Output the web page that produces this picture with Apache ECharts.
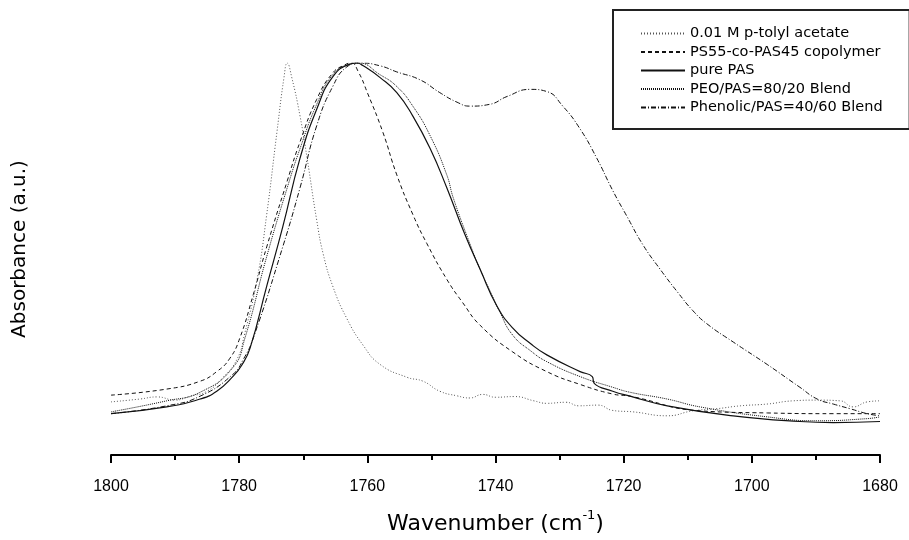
<!DOCTYPE html>
<html>
<head>
<meta charset="utf-8">
<script src="https://cdn.jsdelivr.net/npm/echarts@6/dist/echarts.min.js"></script>
<style>html,body{margin:0;padding:0;background:#fff}#c{width:909px;height:540px}</style>
</head>
<body>
<div id="c"></div>
<script>
const seriesNames = ['0.01 M p-tolyl acetate', 'PS55-co-PAS45 copolymer', 'pure PAS', 'PEO/PAS=80/20 Blend', 'Phenolic/PAS=40/60 Blend'];
const xTicks = [1800, 1780, 1760, 1740, 1720, 1700, 1680];

const pTolyl = [[1800,0.049],[1795.5,0.057],[1792.8,0.063],[1790.0,0.054],[1787.7,0.065],[1785.0,0.079],[1782.5,0.118],[1780.3,0.170],[1779.2,0.236],[1777.2,0.393],[1775.7,0.575],[1774.1,0.807],[1773.0,0.960],[1772.5,1.0],[1771.8,0.960],[1770.5,0.851],[1769.4,0.733],[1767.9,0.559],[1766.9,0.465],[1765.4,0.374],[1763.2,0.283],[1760.7,0.209],[1758.0,0.154],[1753.8,0.118],[1751.3,0.107],[1748.7,0.079],[1746.0,0.066],[1744.0,0.060],[1742.0,0.070],[1740.0,0.062],[1737.0,0.064],[1734.0,0.052],[1732.0,0.045],[1729.0,0.048],[1727.0,0.038],[1724.0,0.040],[1721.7,0.025],[1718.5,0.021],[1713.2,0.010],[1709.2,0.024],[1705.4,0.030],[1701.8,0.038],[1697.6,0.043],[1693.6,0.052],[1689.8,0.054],[1686.2,0.052],[1684.2,0.035],[1682.0,0.049],[1680.0,0.052]];

const copolymer = [[1800,0.068],[1791.3,0.085],[1786.1,0.107],[1783.5,0.134],[1781.5,0.170],[1779.9,0.228],[1777.8,0.350],[1775.7,0.484],[1772.5,0.669],[1770.5,0.779],[1767.9,0.898],[1765.4,0.972],[1763.5,0.995],[1762.5,1.0],[1761.4,0.975],[1760.0,0.917],[1757.6,0.807],[1755.4,0.686],[1752.9,0.575],[1750.7,0.493],[1747.6,0.393],[1745.1,0.327],[1742.4,0.264],[1737.3,0.189],[1732.0,0.134],[1726.8,0.098],[1721.7,0.071],[1719.0,0.065],[1708.1,0.024],[1697.6,0.018],[1687.3,0.016],[1680.0,0.016]];

const purePAS = [[1800,0.016],[1791.3,0.035],[1786.1,0.057],[1783.5,0.079],[1781.0,0.120],[1779.6,0.152],[1778.3,0.200],[1775.7,0.374],[1773.2,0.540],[1770.5,0.733],[1767.9,0.870],[1765.4,0.961],[1762.7,0.997],[1761.6,1.0],[1760.7,0.993],[1758.0,0.959],[1755.4,0.917],[1752.9,0.851],[1750.2,0.760],[1747.6,0.650],[1744.8,0.520],[1742.4,0.421],[1739.8,0.319],[1737.3,0.256],[1734.5,0.212],[1732.0,0.181],[1726.8,0.134],[1724.9,0.120],[1724.6,0.101],[1721.7,0.079],[1719.0,0.065],[1713.2,0.038],[1702.9,0.010],[1692.5,-0.006],[1687.3,-0.009],[1680.0,-0.006]];

const peoBlend = [[1800,0.021],[1791.3,0.052],[1786.1,0.076],[1781.0,0.145],[1779.1,0.228],[1775.7,0.457],[1772.5,0.650],[1770.5,0.760],[1767.9,0.884],[1765.4,0.967],[1762.7,0.997],[1761.4,1.0],[1758.0,0.967],[1755.4,0.934],[1752.9,0.879],[1750.2,0.796],[1747.6,0.686],[1746.6,0.622],[1744.0,0.493],[1742.4,0.420],[1740.9,0.362],[1739.3,0.300],[1737.3,0.236],[1734.5,0.192],[1732.0,0.162],[1726.8,0.120],[1721.7,0.090],[1719.0,0.076],[1713.2,0.057],[1708.1,0.035],[1697.6,0.007],[1689.8,-0.004],[1682.0,0.002],[1680.0,0.007]];

const phenolicBlend = [[1800,0.016],[1791.3,0.038],[1786.1,0.065],[1781.0,0.126],[1779.3,0.170],[1777.8,0.228],[1773.2,0.484],[1770.5,0.650],[1767.9,0.824],[1765.4,0.934],[1763.2,0.989],[1761.1,1.0],[1758.0,0.992],[1755.4,0.975],[1751.8,0.953],[1748.7,0.917],[1746.0,0.890],[1744.0,0.879],[1740.9,0.884],[1738.2,0.906],[1734.6,0.926],[1732.0,0.920],[1729.5,0.879],[1726.8,0.815],[1724.2,0.733],[1721.7,0.642],[1719.5,0.570],[1717.0,0.490],[1714.3,0.421],[1711.5,0.355],[1709.2,0.305],[1707.0,0.268],[1702.9,0.217],[1697.6,0.154],[1692.5,0.090],[1689.8,0.057],[1687.3,0.043],[1684.7,0.030],[1682.0,0.016],[1680.0,0.010]];

const allData = [pTolyl, copolymer, purePAS, peoBlend, phenolicBlend];
const styles = [
  {type:[1,2], width:1, color:'#555'},
  {type:[4,3], width:1, color:'#111'},
  {type:'solid', width:1.2, color:'#111'},
  {type:[1,1], width:1, color:'#111'},
  {type:[5,2,1,2], width:1, color:'#111'}
];

const FONT = '"Liberation Sans", Arial, sans-serif';
const WIDE = '"DejaVu Sans", sans-serif';
const chart = echarts.init(document.getElementById('c'), null, {renderer:'canvas'});
chart.setOption({
  animation:false,
  backgroundColor:'#fff',
  grid:{left:111, right:29, top:63, bottom:78},
  legend:{
    orient:'vertical', left:613, top:10,
    padding:[16, 27, 14, 27],
    borderColor:'#222', borderWidth:2,
    itemWidth:44, itemHeight:14, itemGap:3.5,
    itemStyle:{color:'rgba(0,0,0,0)', borderWidth:0, opacity:0},
    textStyle:{fontFamily:WIDE, fontSize:14.5, color:'#000'},
    data:seriesNames
  },
  xAxis:{
    type:'value', inverse:true, min:1680, max:1800, interval:20,
    axisLine:{onZero:false, lineStyle:{color:'#000', width:2}},
    axisTick:{show:true, inside:false, length:8, lineStyle:{color:'#000', width:2}},
    minorTick:{show:true, splitNumber:2, length:5, lineStyle:{color:'#000', width:2}},
    splitLine:{show:false},
    axisLabel:{margin:24, fontFamily:FONT, fontSize:16, color:'#000',
      formatter: v => xTicks.includes(v) ? String(v) : ''},
    name:'{a|Wavenumber (cm}{s|-1}{a|)}',
    nameLocation:'middle', nameGap:54,
    nameTextStyle:{rich:{
      a:{fontFamily:WIDE, fontSize:22, color:'#000', verticalAlign:'bottom'},
      s:{fontFamily:WIDE, fontSize:13, color:'#000', verticalAlign:'top', padding:[0,0,13,0]}
    }}
  },
  yAxis:{
    type:'value', min:-0.1, max:1.0,
    axisLine:{show:false}, axisTick:{show:false}, axisLabel:{show:false}, splitLine:{show:false},
    name:'Absorbance (a.u.)', nameLocation:'middle', nameGap:81,
    nameTextStyle:{fontFamily:WIDE, fontSize:20, color:'#000', padding:[0,0,0,20]}
  },
  series: allData.map((d,i) => ({
    name:seriesNames[i], type:'line', data:d, showSymbol:false, symbol:'none',
    smooth:0.5,
    lineStyle:styles[i], itemStyle:{color:styles[i].color}
  }))
});
</script>
</body>
</html>
